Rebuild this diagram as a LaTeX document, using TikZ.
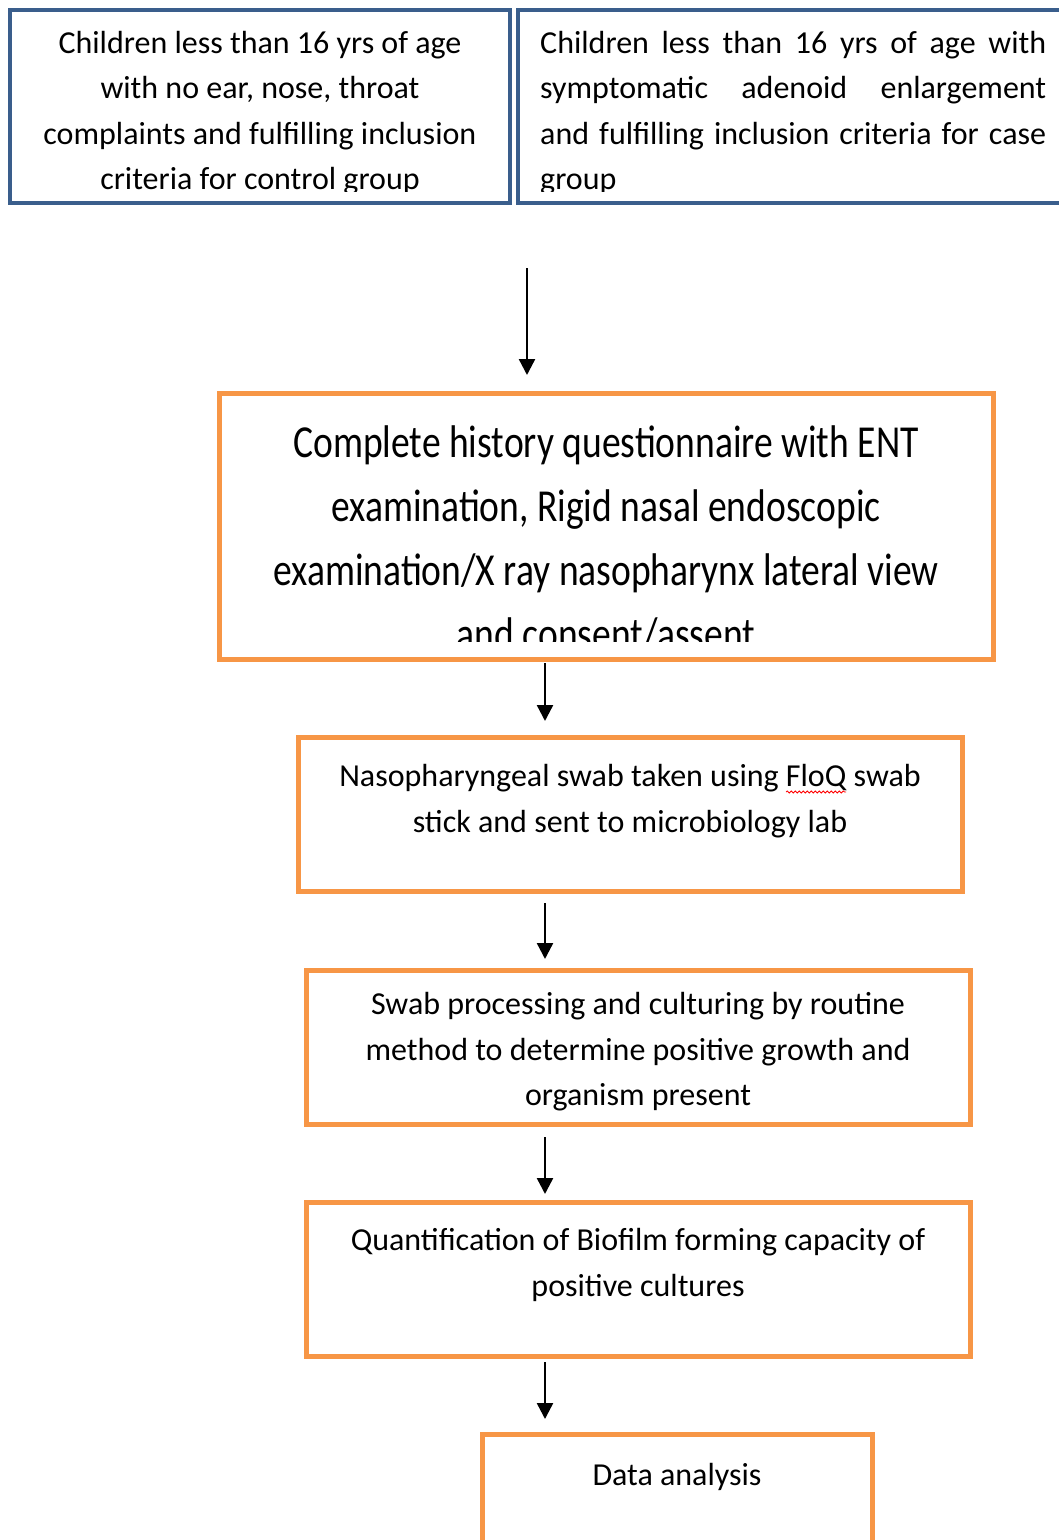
\documentclass[tikz,border=0pt]{standalone}
\usepackage{fontspec}
\setmainfont{Carlito}
\newfontfamily\condfont{Carlito}[FakeStretch=0.82]
\usetikzlibrary{arrows.meta,decorations.pathmorphing}
\definecolor{boxblue}{HTML}{3A5E8C}
\definecolor{boxorange}{HTML}{F79646}
\begin{document}
\begin{tikzpicture}[x=1pt,y=-1pt,
  bluebox/.style={draw=boxblue,line width=4pt,rectangle,inner sep=0pt,outer sep=0pt},
  orangebox/.style={draw=boxorange,line width=5pt,rectangle,inner sep=0pt,outer sep=0pt},
  smalltext/.style={inner sep=0pt,anchor=north,align=center,font=\fontsize{32}{45.5}\selectfont},
  bigtext/.style={inner sep=0pt,anchor=north,align=center,font=\condfont\fontsize{45.8}{64}\selectfont},
  arr/.style={line width=2.4pt,-{Triangle[length=16pt,width=16pt]}}]
\useasboundingbox[fill=white] (0,0) rectangle (1059,1540);
% boxes
\node[bluebox,minimum width=500pt,minimum height=193pt] (b1) at (260,106.5) {};
\node[bluebox,minimum width=562pt,minimum height=193pt] (b2) at (799,106.5) {};
\node[orangebox,minimum width=774pt,minimum height=266pt] (b3) at (606,526) {};
\node[orangebox,minimum width=664pt,minimum height=154pt] (b4) at (630,814) {};
\node[orangebox,minimum width=664pt,minimum height=154pt] (b5) at (638,1047) {};
\node[orangebox,minimum width=664pt,minimum height=154pt] (b6) at (638,1279) {};
\node[orangebox,minimum width=390pt,minimum height=136pt] (b7) at (677,1502) {};
% texts
\begin{scope}
\clip (12,12) rectangle (508,191);
\node[smalltext] (t1) at (260,31) {Children less than 16 yrs of age\\with no ear, nose, throat\\complaints and fulfilling inclusion\\criteria for control group};
\end{scope}
\begin{scope}
\clip (520,12) rectangle (1059,191);
\node[smalltext,align=left,anchor=north west] (t2) at (540,31) {\makebox[506pt][s]{Children less than 16 yrs of age with}\\\makebox[506pt][s]{symptomatic adenoid enlargement}\\\makebox[506pt][s]{and fulfilling inclusion criteria for case}\\group};
\end{scope}
\begin{scope}
\clip (222,396) rectangle (990,641);
\node[bigtext] (t3) at (606,425) {Complete history questionnaire with ENT\\examination, Rigid nasal endoscopic\\examination/X ray nasopharynx lateral view\\and consent/assent};
\end{scope}
\node[smalltext] (t4) at (630,764.5) {Nasopharyngeal swab taken using FloQ swab\\stick and sent to microbiology lab};
\node[smalltext] (t5) at (638,992.5) {Swab processing and culturing by routine\\method to determine positive growth and\\organism present};
\node[smalltext] (t6) at (638,1228.5) {Quantification of Biofilm forming capacity of\\positive cultures};
\node[smalltext] (t7) at (677,1463.5) {Data analysis};
\draw[red,line width=0.8pt,decorate,decoration={snake,amplitude=1pt,segment length=4pt}] (786,792) -- (846,792);
% arrows
\coordinate (a1s) at (527,268); \coordinate (a1e) at (527,375);
\coordinate (a2s) at (545,663); \coordinate (a2e) at (545,721);
\coordinate (a3s) at (545,903); \coordinate (a3e) at (545,959);
\coordinate (a4s) at (545,1137); \coordinate (a4e) at (545,1194);
\coordinate (a5s) at (545,1362); \coordinate (a5e) at (545,1419);
\draw[arr] (a1s) -- (a1e);
\draw[arr] (a2s) -- (a2e);
\draw[arr] (a3s) -- (a3e);
\draw[arr] (a4s) -- (a4e);
\draw[arr] (a5s) -- (a5e);
\end{tikzpicture}
\end{document}
